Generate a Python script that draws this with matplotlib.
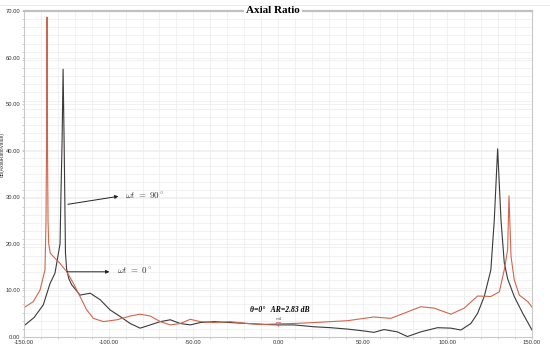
import numpy as np
import matplotlib.pyplot as plt
from matplotlib.ticker import MultipleLocator, FixedLocator

plt.rcParams['mathtext.fontset'] = 'cm'

# theta (deg) and axial ratio (dB) for omega*t = 0 deg (red) and 90 deg (black)
theta_0 = [-150, -144.5, -140.5, -137.6, -137.0, -136.7, -136.4, -136.1, -135.8, -135.4,
           -134.5, -132.7, -128.7, -124.7, -120.8, -116.9, -112.9, -109, -103.1, -95.1,
           -87.3, -81.4, -75.4, -69.5, -63.6, -57.7, -51.8, -45.9, -38, -28.1, -18.2,
           -8.4, 0, 9.3, 21.2, 31.1, 41, 50.8, 56.7, 66.6, 74.4, 84.3, 92.2, 102.1,
           110, 117.9, 125.7, 130.7, 133.6, 135.6, 136.4, 137.6, 139.5, 142.5, 147.5, 150]
ar_0 = [6.3, 7.6, 10.1, 14.4, 25, 40, 68.7, 40, 25, 20,
        18, 17.3, 15.8, 14, 11.5, 8.7, 5.8, 4.0, 3.3, 3.7,
        4.5, 4.9, 4.5, 3.3, 2.6, 2.9, 3.8, 3.3, 3.1, 3.3, 2.9,
        2.7, 2.83, 2.9, 3.1, 3.3, 3.5, 4.0, 4.3, 4.0, 5.1, 6.5, 6.2, 4.9,
        6.2, 8.8, 8.7, 9.7, 14.4, 18.7, 30.3, 17.3, 12.3, 9.0, 7.6, 6.4]

theta_90 = [-150, -144, -138.6, -134.6, -131.7, -128.7, -128.2, -127.5, -126.9, -126.3,
            -125.9, -125.5, -124.8, -123.5, -121.8, -116.9, -110.9, -105, -99.1, -93.2,
            -87.3, -81.4, -75.4, -69.5, -63.6, -57.7, -51.8, -45.9, -38, -28.1, -18.2,
            -8.4, 0, 9.3, 21.2, 31.1, 41, 50.8, 56.7, 62.6, 70.5, 76.4, 84.3, 94.2,
            102.1, 108, 113.9, 117.9, 121.8, 125.7, 127.7, 129.7, 131.7, 133.6, 135.6,
            139.5, 144.5, 150]
ar_90 = [2.4, 4.2, 6.9, 11.5, 13.7, 20, 30, 42, 57.5, 42,
         30, 18, 14.5, 12.5, 11.2, 9.0, 9.4, 8.0, 5.8, 4.4,
         2.9, 1.9, 2.6, 3.3, 3.7, 2.9, 2.6, 3.1, 3.3, 3.1, 2.9,
         2.7, 2.6, 2.6, 2.2, 2.0, 1.7, 1.3, 1.0, 1.6, 1.1, 0.1, 1.1, 2.0,
         1.9, 1.5, 2.9, 5.1, 8.7, 14.4, 25, 40.4, 25, 16, 12.5,
         8.7, 5.1, 1.5]

y_ticks = [0, 10, 20, 30, 40, 50, 60, 70]
x_ticks = [-150, -100, -50, 0, 50, 100, 150]

fig = plt.figure(figsize=(5.5, 3.48), dpi=100)
ax = fig.add_axes([0.0436, 0.0316, 0.9237, 0.9368])

ax.plot(theta_90, ar_90, color='#3a3a3a', lw=0.8)
ax.plot(theta_0, ar_0, color='#d2664a', lw=0.8)

ax.set_xlim(-150, 150)
ax.set_ylim(0, 70)
ax.xaxis.set_major_locator(FixedLocator(x_ticks))
ax.yaxis.set_major_locator(FixedLocator(y_ticks))
ax.xaxis.set_minor_locator(MultipleLocator(10))
ax.yaxis.set_minor_locator(MultipleLocator(1.75))
ax.set_xticklabels([f'{v:.2f}' for v in x_ticks])
ax.set_yticklabels([f'{v:.2f}' for v in y_ticks])
ax.grid(True, which='both', color='#ececec', lw=0.5)
ax.set_axisbelow(True)
ax.tick_params(which='both', labelsize=4.2, labelcolor='#333333', length=1.5,
               width=0.4, color='#aaaaaa', pad=1)
for lab in ax.get_xticklabels() + ax.get_yticklabels():
    lab.set_family('Liberation Sans')

for s in ['left', 'right', 'bottom']:
    ax.spines[s].set_color('#c8c8c8')
    ax.spines[s].set_linewidth(0.8)
ax.spines['top'].set_color('#c0c0c0')
ax.spines['top'].set_linewidth(1.6)

ax.set_ylabel('dB(AxialRatioValue)', fontsize=3.6, family='Liberation Sans',
              color='#333333')
ax.yaxis.set_label_coords(-0.037, 0.56)

ax.text(0.49, 1.0, 'Axial Ratio', transform=ax.transAxes, ha='center', va='center',
        family='Liberation Serif', fontweight='bold', fontsize=8,
        bbox=dict(facecolor='white', edgecolor='none', pad=1.5))
fig.add_artist(plt.Line2D([0, 1], [1 - 5 / 348, 1 - 5 / 348], color='#e6e6e6', lw=0.6))

arrow = dict(arrowstyle='-|>', color='#222222', lw=0.7, mutation_scale=5)
ax.annotate('', xy=(-92.6, 30.3), xytext=(-125.7, 28.4), arrowprops=arrow)
ax.text(-90.2, 30.3, r'$\omega t\ =\ 90^\circ$', fontsize=6.5, va='center', color='#333333')
ax.annotate('', xy=(-97.9, 14.0), xytext=(-126.3, 14.0), arrowprops=arrow)
ax.text(-95.2, 14.1, r'$\omega t\ =\ 0^\circ$', fontsize=6.5, va='center', color='#333333')

ax.plot([0], [2.83], marker='v', ms=3, mfc='none', mec='#cc6688', mew=0.5)
ax.text(0.3, 3.5, 'm1', fontsize=3, ha='center', va='bottom', color='#555555')
ax.text(1.0, 5.8, r'θ=0°   AR=2.83 dB', fontsize=5.5, ha='center', va='center',
        family='Liberation Serif', fontweight='bold', style='italic')

fig.savefig('out.png', dpi=100)
